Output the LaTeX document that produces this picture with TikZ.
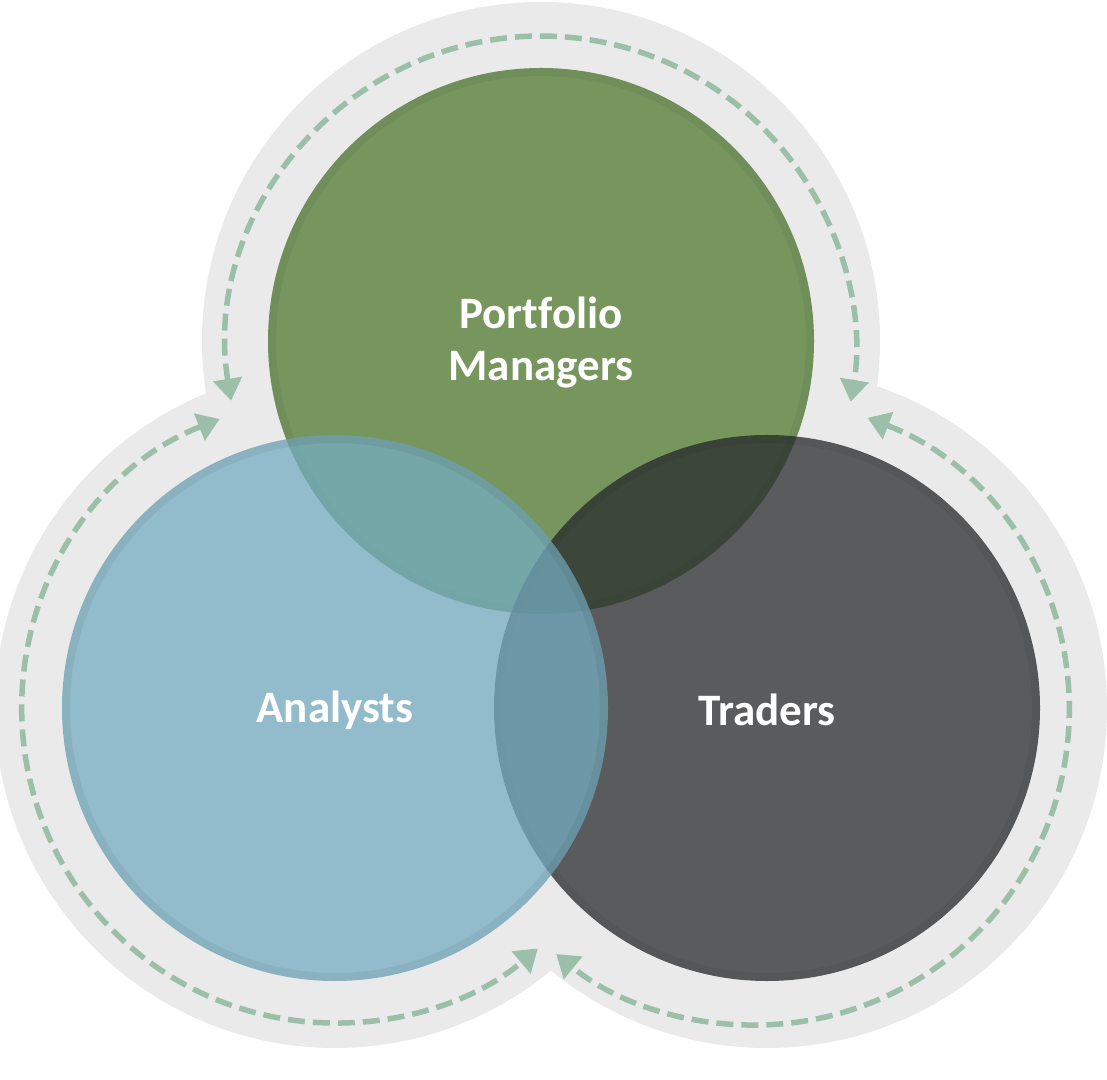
\documentclass[tikz,border=0pt]{standalone}
\usepackage{fontspec}
\setmainfont{Carlito}[Ligatures=NoCommon]
\usetikzlibrary{arrows.meta}
\definecolor{bggray}{HTML}{EAEAEA}
\definecolor{pmgreen}{HTML}{77965E}
\definecolor{anblue}{HTML}{75ACC1}
\definecolor{trdark}{HTML}{2A2C2E}
\definecolor{dashgreen}{HTML}{9BBFA9}
\tikzset{
  halo/.style={fill=bggray, draw=none},
  ring/.style={draw=black, draw opacity=0.05, line width=8pt, fill=none},
  cyclearrow/.style={draw=dashgreen, line width=5.5pt, dash pattern=on 17pt off 8pt,
     {Triangle[length=22pt,width=28pt]}-{Triangle[length=22pt,width=28pt]}},
  lbl/.style={text=white, font=\fontsize{45}{52}\selectfont\bfseries, align=center}
}
\begin{document}
\begin{tikzpicture}[x=1pt,y=1pt]
\useasboundingbox (0,0) rectangle (1107,1079);
% centres
\coordinate (cpm) at (541,738);
\coordinate (can) at (335,371);
\coordinate (ctr) at (767,371);
% grey halos
\fill[halo] (cpm) circle[radius=339];
\fill[halo] (can) circle[radius=340];
\fill[halo] (ctr) circle[radius=340];
% dashed cycle arrows
\coordinate (apm) at (541,729);
\coordinate (aan) at (335,369);
\coordinate (atr) at (755,368);
\draw[cyclearrow] (apm) ++(189.3:314) arc[start angle=189.3, end angle=-9.5, radius=314];
\draw[cyclearrow] (aan) ++(111.6:313) arc[start angle=111.6, end angle=310.4, radius=313];
\draw[cyclearrow] (atr) ++(69:314) arc[start angle=69, end angle=-129.3, radius=314];
% circles
\fill[pmgreen] (cpm) circle[radius=273];
\draw[ring] (cpm) circle[radius=269];
\fill[trdark, fill opacity=0.75] (ctr) circle[radius=273];
\draw[ring] (ctr) circle[radius=269];
\fill[anblue, fill opacity=0.75] (can) circle[radius=273];
\draw[ring] (can) circle[radius=269];
% labels
\node[lbl] (pm) at (541,736) {Portfolio\\Managers};
\node[lbl] (an) at (335,369) {Analysts};
\node[lbl] (tr) at (767,369) {Traders};
\end{tikzpicture}
\end{document}
